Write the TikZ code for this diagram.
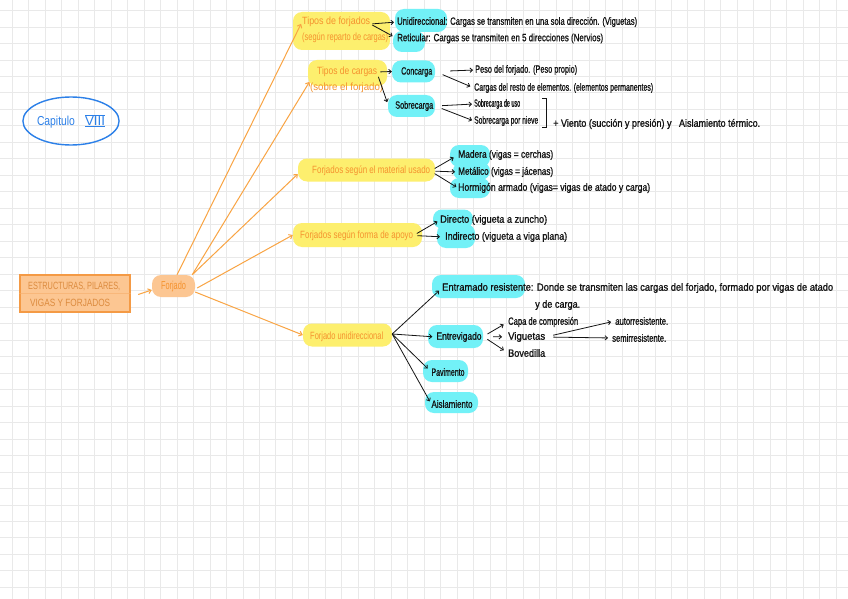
\documentclass[tikz,border=0pt]{standalone}
\usepackage{fontspec}
\setmainfont{Liberation Sans}
\newfontfamily\inkfont{Liberation Sans}[FakeBold=1.2]
\usepackage{graphicx}
\usetikzlibrary{arrows.meta,shapes.geometric}
\definecolor{yel}{HTML}{FDEF6E}
\definecolor{cya}{HTML}{72F1F7}
\definecolor{otext}{HTML}{F5922E}
\definecolor{oline}{HTML}{F9A443}
\definecolor{ofill}{HTML}{FCC692}
\definecolor{oborder}{HTML}{F49A45}
\definecolor{blu}{HTML}{2C80E8}
\definecolor{gridc}{HTML}{E9E9E9}
\definecolor{ink}{HTML}{141414}
\newcommand\hw[2]{\resizebox{#1pt}{\height}{#2}}
\begin{document}
\begin{tikzpicture}[x=1pt,y=-1pt,
  hl/.style={rounded corners=9pt, inner sep=0pt, draw=none},
  ybox/.style={hl, fill=yel},
  cbox/.style={hl, fill=cya},
  otxt/.style={text=otext, inner sep=0pt, font=\fontsize{10.5}{12}\selectfont, anchor=west},
  btxt/.style={text=ink, inner sep=0pt, font=\inkfont\fontsize{10.5}{12}\selectfont, anchor=west},
  bar/.style={draw=ink, line width=0.8pt, -{Straight Barb[length=2.5pt,width=4.5pt]}},
  oar/.style={draw=oline, line width=1pt, -{Straight Barb[length=3pt,width=5pt]}}]
\useasboundingbox (0,0) rectangle (848,599);
\fill[white] (0,0) rectangle (848,599);
% grid
\foreach \i in {0,...,50} \draw[gridc, line width=1pt] ({12.3+16.48*\i},0) -- ({12.3+16.48*\i},599);
\foreach \j in {0,...,35} \draw[gridc, line width=1pt] (0,{10.6+16.48*\j}) -- (848,{10.6+16.48*\j});

% ---------- left side ----------
\node[ellipse, draw=blu, line width=1.4pt, minimum width=96pt, minimum height=48pt, inner sep=0pt,
      text=blu, font=\fontsize{13}{15}\selectfont] (cap) at (71,121)
      {\hw{38}{Capitulo}\hspace{10pt}$\overline{\underline{\mbox{\hw{20}{VIII}}}}$};

\node[draw=oborder, fill=ofill, line width=1.2pt, minimum width=110pt, minimum height=37pt, inner sep=0pt] (est) at (75,293.5) {};
\draw[oborder!80, line width=1.5pt, opacity=0.6] (est.west) -- (est.east);
\node[otxt, text=oborder!90!black] (est1) at (28,287) {\hw{92}{ESTRUCTURAS, PILARES,}};
\node[otxt, text=oborder!90!black] (est2) at (30,303) {\hw{80}{VIGAS Y FORJADOS}};

\node[hl, fill=ofill, minimum width=43pt, minimum height=22pt] (forj) at (173.5,286) {};
\node[otxt, anchor=center, font=\fontsize{11.5}{13}\selectfont] (forjt) at (173.5,286.5) {\hw{25}{Forjado}};

% ---------- yellow boxes ----------
\node[ybox, minimum width=97pt, minimum height=38pt] (tfh) at (341.5,31) {};
\node[otxt] (tft1) at (302,22) {\hw{68}{Tipos de forjados}};
\node[otxt] (tft2) at (302,38) {\hw{86}{(según reparto de cargas)}};

\node[ybox, minimum width=79pt, minimum height=26pt] (tch) at (347.5,73) {};
\node[otxt] (tct1) at (317,72) {\hw{60}{Tipos de cargas}};
\node[otxt] (tct2) at (310,88) {\hw{73}{(sobre el forjado)}};

\node[ybox, minimum width=137pt, minimum height=23pt] (math) at (366.5,170) {};
\node[otxt] (matt) at (312,171) {\hw{118}{Forjados según el material usado}};

\node[ybox, minimum width=129pt, minimum height=24pt] (apoh) at (357.5,235) {};
\node[otxt] (apot) at (300,235.5) {\hw{113}{Forjados según forma de apoyo}};

\node[ybox, minimum width=89pt, minimum height=23pt] (unih) at (347.5,335) {};
\node[otxt] (unit) at (310,336.5) {\hw{73}{Forjado unidireccional}};

% ---------- cyan highlights ----------
\node[cbox, minimum width=52pt, minimum height=23pt] (unidh) at (421,20.5) {};
\node[cbox, minimum width=32pt, minimum height=21pt] (reth) at (409,41.5) {};
\node[cbox, minimum width=43pt, minimum height=22pt] (conch) at (413.5,71.5) {};
\node[cbox, minimum width=47pt, minimum height=22pt] (sobreh) at (411.5,106) {};
\node[cbox, minimum width=40pt, minimum height=22pt] (madh) at (470,156) {};
\node[cbox, minimum width=37pt, minimum height=18pt] (meth) at (471.5,171) {};
\node[cbox, minimum width=40pt, minimum height=20pt] (horh) at (470,188) {};
\node[cbox, minimum width=40pt, minimum height=19pt] (dirh) at (453,219) {};
\node[cbox, minimum width=38pt, minimum height=24pt] (indh) at (456,236) {};
\node[cbox, minimum width=93pt, minimum height=23pt] (enth) at (478.5,286.5) {};
\node[cbox, minimum width=55pt, minimum height=23pt] (entvh) at (455.5,336.5) {};
\node[cbox, minimum width=45pt, minimum height=22pt] (pavh) at (445.5,371) {};
\node[cbox, minimum width=53pt, minimum height=21pt] (aish) at (451.5,402.5) {};

% ---------- black texts ----------
\node[btxt] (unidt) at (397,22) {\hw{240}{Unidireccional: Cargas se transmiten en una sola dirección. (Viguetas)}};
\node[btxt] (rett) at (397,38.5) {\hw{206}{Reticular: Cargas se transmiten en 5 direcciones (Nervios)}};
\node[btxt] (conct) at (401,72) {\hw{31}{Concarga}};
\node[btxt] (sobret) at (395,106) {\hw{38}{Sobrecarga}};
\node[btxt] (pesot) at (475,70) {\hw{102}{Peso del forjado. (Peso propio)}};
\node[btxt] (restot) at (474,88) {\hw{179}{Cargas del resto de elementos. (elementos permanentes)}};
\node[btxt] (usot) at (474,104) {\hw{46}{Sobrecarga de uso}};
\node[btxt] (nievet) at (474,121) {\hw{64}{Sobrecarga por nieve}};
\draw[ink, line width=0.8pt] (542,98) -- (546,98) -- (546,127) -- (542,127);
\node[btxt] (vientot) at (553,124) {\hw{207}{+ Viento (succión y presión) y \ \ Aislamiento térmico.}};

\node[btxt] (madt) at (458,155) {\hw{95}{Madera (vigas = cerchas)}};
\node[btxt] (mett) at (458,172) {\hw{95}{Metálico (vigas = jácenas)}};
\node[btxt] (hort) at (458,188) {\hw{192}{Hormigón armado (vigas= vigas de atado y carga)}};

\node[btxt] (dirt) at (440,220) {\hw{107}{Directo (vigueta a zuncho)}};
\node[btxt] (indt) at (445,237) {\hw{122}{Indirecto (vigueta a viga plana)}};

\node[btxt] (entt) at (442,288) {\hw{391}{Entramado resistente: Donde se transmiten las cargas del forjado, formado por vigas de atado}};
\node[btxt] (entt2) at (535,305) {\hw{45}{y de carga.}};
\node[btxt, anchor=center] (entvt) at (459,337) {\hw{45}{Entrevigado}};
\node[btxt, anchor=center] (pavt) at (448,372) {\hw{33}{Pavimento}};
\node[btxt, anchor=center] (aist) at (452,404) {\hw{41}{Aislamiento}};
\node[btxt] (capat) at (508,322) {\hw{70}{Capa de compresión}};
\node[btxt] (vigt) at (508,337) {\hw{37}{Viguetas}};
\node[btxt] (bovt) at (508,353) {\hw{37}{Bovedilla}};
\node[btxt] (autot) at (615,321) {\hw{53}{autorresistente.}};
\node[btxt] (semit) at (612,338) {\hw{54}{semirresistente.}};

% ---------- orange connectors ----------
\draw[oar, shorten <=8pt] ([yshift=-3.5pt]est.east) -- ([yshift=-4pt]forj.west);
\draw[oar, shorten >=2pt] ([xshift=3.5pt]forj.north) -- (tft1.west);
\draw[oar, shorten >=1pt] ([xshift=-3pt]forj.north east) -- ([yshift=7pt]tct2.west);
\draw[oar] ([xshift=-3pt]forj.north east) -- ([yshift=-4pt]math.west);
\draw[oar] ([xshift=2pt,yshift=-2pt]forj.east) -- (apoh.west);
\draw[oar] ([yshift=-6pt]forj.east) -- (unih.west);

% ---------- black connectors ----------
\draw[bar, shorten <=2pt, shorten >=3pt] ([yshift=-2pt]tft1.east) -- (unidt.west);
\draw[bar, shorten <=2pt, shorten >=5pt] ([yshift=-2pt]tft1.east) -- (rett.west);
\draw[bar, shorten <=3pt, shorten >=0pt] (tct1.east) -- (conch.west);
\draw[bar, shorten <=3pt, shorten >=2pt] ([yshift=-2pt]tct1.east) -- ([yshift=2pt]sobreh.west);
\draw[bar, shorten <=15pt, shorten >=2pt] (conch.east) -- (pesot.west);
\draw[bar, shorten <=8pt, shorten >=4pt] (conch.east) -- (restot.west);
\draw[bar, shorten <=7pt, shorten >=2pt] (sobreh.east) -- (usot.west);
\draw[bar, shorten <=7pt, shorten >=2pt] (sobreh.east) -- (nievet.west);
\draw[bar, shorten <=5pt, shorten >=5pt] (matt.east) -- (madt.west);
\draw[bar, shorten <=5pt, shorten >=3pt] (matt.east) -- (mett.west);
\draw[bar, shorten <=5pt, shorten >=2pt] (matt.east) -- (hort.west);
\draw[bar, shorten <=4pt, shorten >=3pt] (apot.east) -- (dirt.west);
\draw[bar, shorten <=4pt, shorten >=5pt] (apot.east) -- (indt.west);
\draw[bar, shorten >=4pt] ([yshift=1pt]unih.east) -- (entt.west);
\draw[bar, shorten >=4pt] ([yshift=1pt]unih.east) -- (entvt.west);
\draw[bar, shorten >=5pt] ([yshift=1pt]unih.east) -- (pavt.west);
\draw[bar, shorten >=3pt] ([yshift=1pt]unih.east) -- (aist.west);
\draw[bar, shorten <=5pt, shorten >=5pt] (entvh.east) -- (capat.west);
\draw[bar, shorten <=10pt, shorten >=6pt] (entvh.east) -- (vigt.west);
\draw[bar, shorten <=5pt, shorten >=5pt] (entvh.east) -- (bovt.west);
\draw[bar, shorten <=8pt, shorten >=4pt] (vigt.east) -- (autot.west);
\draw[bar, shorten <=8pt, shorten >=4pt] (vigt.east) -- (semit.west);
\end{tikzpicture}
\end{document}
